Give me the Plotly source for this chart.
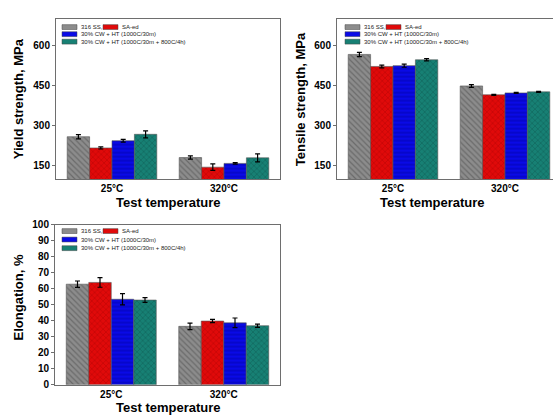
import plotly.graph_objects as go

W, H = 553, 420

categories = ["25°C", "320°C"]
series_names = ["316 SS,", "SA-ed", "30% CW + HT (1000C/30m)", "30% CW + HT (1000C/30m + 800C/4h)"]

# Yield strength (MPa)
yield_316 = [258, 180]
yield_sa = [216, 144]
yield_cw30 = [243, 158]
yield_cw30_800 = [267, 179]
yield_err_316 = [8, 6]
yield_err_sa = [4, 12]
yield_err_cw30 = [5, 3]
yield_err_cw30_800 = [13, 15]

# Tensile strength (MPa)
uts_316 = [566, 448]
uts_sa = [521, 415]
uts_cw30 = [524, 422]
uts_cw30_800 = [546, 426]
uts_err_316 = [8, 5]
uts_err_sa = [5, 2]
uts_err_cw30 = [6, 2]
uts_err_cw30_800 = [4, 2]

# Elongation (%)
el_316 = [62.8, 36.5]
el_sa = [63.9, 39.8]
el_cw30 = [53.4, 38.7]
el_cw30_800 = [52.9, 36.9]
el_err_316 = [2.0, 2.0]
el_err_sa = [3.0, 1.0]
el_err_cw30 = [3.5, 3.0]
el_err_cw30_800 = [1.5, 1.0]

yield_ticks = [150, 300, 450, 600]
uts_ticks = [150, 300, 450, 600]
el_ticks = [0, 10, 20, 30, 40, 50, 60, 70, 80, 90, 100]

styles = [
    dict(color="#8c8c8c", fg="#4a4a4a", shape="\\"),
    dict(color="#e00a0a", fg="#a00000", shape="x"),
    dict(color="#0a0ae6", fg="#00008a", shape="-"),
    dict(color="#178074", fg="#0a4a44", shape="x"),
]

FONT = "Liberation Sans, Arial, sans-serif"


def px(x):
    return x / W


def py(y):
    return 1 - y / H


fig = go.Figure()

panels = [
    ("x", "y", [yield_316, yield_sa, yield_cw30, yield_cw30_800],
     [yield_err_316, yield_err_sa, yield_err_cw30, yield_err_cw30_800]),
    ("x2", "y2", [uts_316, uts_sa, uts_cw30, uts_cw30_800],
     [uts_err_316, uts_err_sa, uts_err_cw30, uts_err_cw30_800]),
    ("x3", "y3", [el_316, el_sa, el_cw30, el_cw30_800],
     [el_err_316, el_err_sa, el_err_cw30, el_err_cw30_800]),
]

for xa, ya, vals, errs in panels:
    for name, v, e, st in zip(series_names, vals, errs, styles):
        fig.add_trace(go.Bar(
            x=categories, y=v, name=name, xaxis=xa, yaxis=ya,
            showlegend=False, offsetgroup=name,
            marker=dict(
                color=st["color"],
                line=dict(color="#555555", width=0.6),
                pattern=dict(shape=st["shape"], fillmode="overlay",
                             fgcolor=st["fg"], size=4, solidity=0.3),
            ),
            error_y=dict(type="data", array=e, color="black",
                         thickness=1.2, width=2.5),
        ))

axis_common = dict(showline=True, linecolor="#6e6e6e", linewidth=1,
                   showgrid=False, zeroline=False,
                   tickfont=dict(family=FONT, size=10, color="black", weight="bold"))

xdom1 = [px(56), px(280)]
xdom2 = [px(337), 1.0]
xdom3 = [px(55), px(280)]
ydom_top = [py(178), py(13)]
ydom_bot = [py(390), py(225)]

# top-right panel is cropped on the right: range covers 216px at 112px/category
fig.update_layout(
    width=W, height=H,
    margin=dict(l=0, r=0, t=0, b=0),
    paper_bgcolor="white", plot_bgcolor="white",
    barmode="group", bargap=0.2, bargroupgap=0,
    showlegend=False,
    xaxis=dict(domain=xdom1, anchor="y", type="category", range=[-0.5, 1.5],
               ticks="", mirror=True, **axis_common),
    yaxis=dict(domain=ydom_top, anchor="x", range=[100, 700], tickvals=yield_ticks,
               ticks="outside", ticklen=3, tickcolor="#6e6e6e", mirror=True, **axis_common),
    xaxis2=dict(domain=xdom2, anchor="y2", type="category",
                range=[-0.5, -0.5 + (W - 337) / 112.0],
                ticks="", mirror=True, **axis_common),
    yaxis2=dict(domain=ydom_top, anchor="x2", range=[100, 700], tickvals=uts_ticks,
                ticks="outside", ticklen=3, tickcolor="#6e6e6e", mirror=False, **axis_common),
    xaxis3=dict(domain=xdom3, anchor="y3", type="category", range=[-0.5, 1.5],
                ticks="", mirror=True, **axis_common),
    yaxis3=dict(domain=ydom_bot, anchor="x3", range=[0, 100], tickvals=el_ticks,
                ticks="outside", ticklen=3, tickcolor="#6e6e6e", mirror=True, **axis_common),
)

title_font = dict(family=FONT, size=13, color="black", weight="bold")
ann = []
# axis titles
ann.append(dict(text="Yield strength, MPa", x=px(18), y=py(96), textangle=-90))
ann.append(dict(text="Tensile strength, MPa", x=px(300), y=py(96), textangle=-90))
ann.append(dict(text="Elongation, %", x=px(18), y=py(300), textangle=-90))
ann.append(dict(text="Test temperature", x=px(168), y=py(202)))
ann.append(dict(text="Test temperature", x=px(432), y=py(202)))
ann.append(dict(text="Test temperature", x=px(168), y=py(413)))
for a in ann:
    a.update(xref="paper", yref="paper", showarrow=False, font=title_font,
             xanchor="center", yanchor="middle")
    fig.add_annotation(**a)

# in-plot legends (drawn as swatches + text)
leg_font = dict(family=FONT, size=6, color="#222222")
legend_layouts = [
    (62, [21.7, 29.0, 36.7], 103),
    (345, [21.7, 29.0, 36.7], 386),
    (62, [231.7, 240.4, 249.3], 103),
]
sw_w, sw_h = 15, 5
for x0, rows, redx in legend_layouts:
    entries = [
        (x0, rows[0], 0),
        (redx, rows[0], 1),
        (x0, rows[1], 2),
        (x0, rows[2], 3),
    ]
    for ex, ey, idx in entries:
        fig.add_shape(type="rect", xref="paper", yref="paper",
                      x0=px(ex), x1=px(ex + sw_w), y0=py(ey + sw_h / 2), y1=py(ey - sw_h / 2),
                      fillcolor=styles[idx]["color"], line=dict(color="#444444", width=0.5))
        fig.add_annotation(text=series_names[idx], xref="paper", yref="paper",
                           x=px(ex + sw_w + 2), y=py(ey), xanchor="left", yanchor="middle",
                           showarrow=False, font=leg_font)

fig.write_html("out.html")
